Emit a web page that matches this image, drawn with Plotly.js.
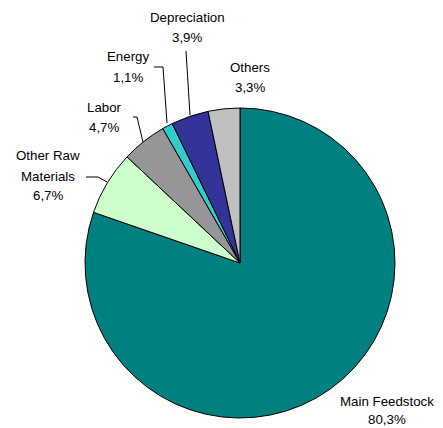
<!DOCTYPE html>
<html><head><meta charset="utf-8">
<script src="https://cdn.plot.ly/plotly-3.0.1.min.js"></script>
<style>html,body{margin:0;padding:0;background:#fff}#c{width:443px;height:428px}</style>
</head><body><div id="c"></div>
<script>
const categories = ["Main Feedstock", "Other Raw Materials", "Labor", "Energy", "Depreciation", "Others"];
const values = [80.3, 6.7, 4.7, 1.1, 3.9, 3.3];
const colors = ["#008080", "#CCFFCC", "#969696", "#33CCCC", "#333399", "#C0C0C0"];
const labelLines = [["Main Feedstock"], ["Other Raw", "Materials"], ["Labor"], ["Energy"], ["Depreciation"], ["Others"]];

const W = 443, H = 428;
const px = x => x / W, py = y => 1 - y / H;
// label anchor (center x, first-line y) in pixels
const labelPos = [[387, 401], [48, 156], [104, 107], [128, 57], [187, 17], [250, 67]];
const lineGap = 20;
const fmt = v => v.toFixed(1).replace('.', ',') + '%';

const annotations = [];
categories.forEach((c, i) => {
  const lines = labelLines[i].concat([fmt(values[i])]);
  lines.forEach((t, k) => {
    annotations.push({
      text: t, xref: 'paper', yref: 'paper',
      x: px(labelPos[i][0]), y: py(labelPos[i][1] + k * (i === 0 ? 18 : lineGap)),
      xanchor: 'center', yanchor: 'middle', showarrow: false,
      font: {family: 'Liberation Sans, Arial, sans-serif', size: 13.3, color: '#000'}
    });
  });
});

const leaders = [
  [[186, 51], [190, 115]],
  [[154, 67], [163, 67], [167, 123]],
  [[133, 117], [137, 117], [143, 142]],
  [[86, 177], [98, 177], [107, 182]]
];
const shapes = leaders.map(pts => ({
  type: 'path', xref: 'paper', yref: 'paper',
  path: pts.map((p, j) => (j ? 'L' : 'M') + px(p[0]) + ',' + py(p[1])).join(' '),
  line: {color: '#000', width: 1}
}));

const cx = 240, cy = 263, r = 155;
const data = [{
  type: 'pie', labels: categories, values: values, sort: false,
  direction: 'clockwise', rotation: 0,
  marker: {colors: colors, line: {color: '#000', width: 1}},
  textinfo: 'none', hoverinfo: 'label+percent',
  domain: {x: [px(cx - r), px(cx + r)], y: [py(cy + r), py(cy - r)]}
}];
const layout = {
  width: W, height: H, margin: {l: 0, r: 0, t: 0, b: 0},
  showlegend: false, paper_bgcolor: '#fff',
  annotations: annotations, shapes: shapes
};
Plotly.newPlot('c', data, layout, {displayModeBar: false, staticPlot: true});
</script></body></html>
